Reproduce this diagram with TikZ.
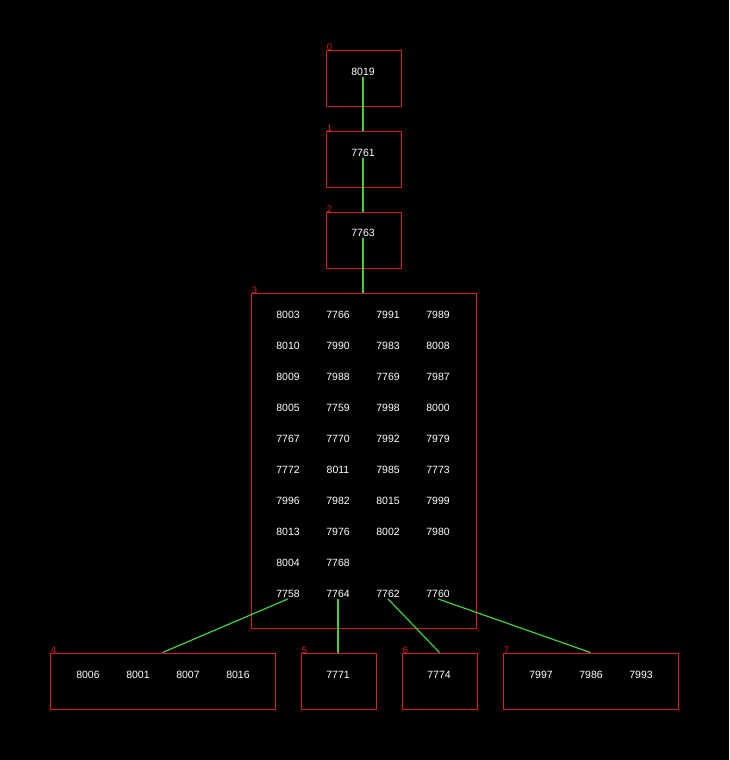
\documentclass[tikz,border=0pt]{standalone}
\usepackage{fontspec}
\setmainfont{Liberation Sans}
\usetikzlibrary{positioning}
\definecolor{boxred}{RGB}{214,32,32}
\definecolor{linkgreen}{RGB}{64,208,64}
\tikzset{
	box/.style={draw=boxred, line width=0.9pt, minimum width=#1, minimum height=56pt, inner sep=0pt},
	num/.style={text=white, font=\fontsize{10.5}{10.5}\selectfont, inner sep=1pt},
	tag/.style={text=boxred, font=\fontsize{9.5}{9.5}\selectfont, inner sep=0pt, anchor=south west, xshift=1pt, yshift=-1pt},
	link/.style={draw=linkgreen, line width=1.2pt}
}

\begin{document}
\begin{tikzpicture}[x=1pt,y=-1pt]
	\fill[black] (0,0) rectangle (729,760);

	\node[box=75pt] (b0) at (363.5,78) {};
	\node[box=75pt] (b1) at (363.5,159) {};
	\node[box=75pt] (b2) at (363.5,240) {};
	\node[box=225pt, minimum height=335pt] (b3) at (363.5,460.5) {};
	\node[box=225pt] (b4) at (162.5,681) {};
	\node[box=75pt] (b5) at (338.5,681) {};
	\node[box=75pt] (b6) at (439.5,681) {};
	\node[box=175pt] (b7) at (590.5,681) {};
	\foreach \i in {0,...,7}
		\node[tag] at (b\i.north west) {\i};

	\node[num] (t0) at (363,72) {8019};
	\node[num] (t1) at (363,153) {7761};
	\node[num] (t2) at (363,233) {7763};
	\foreach \row [count=\r] in {{8003,7766,7991,7989},{8010,7990,7983,8008},{8009,7988,7769,7987},{8005,7759,7998,8000},{7767,7770,7992,7979},{7772,8011,7985,7773},{7996,7982,8015,7999},{8013,7976,8002,7980},{8004,7768},{7758,7764,7762,7760}}
		\foreach \v [count=\c] in \row
			\node[num] (n\r-\c) at (238+50*\c,284+31*\r) {\v};
	\foreach \v [count=\c] in {8006,8001,8007,8016}
		\node[num] (p\c) at (38+50*\c,675) {\v};
	\node[num] (q1) at (338,675) {7771};
	\node[num] (r1) at (439,675) {7774};
	\foreach \v [count=\c] in {7997,7986,7993}
		\node[num] (s\c) at (491+50*\c,675) {\v};

	\draw[link] (t0.south) -- (t0.south |- b1.north);
	\draw[link] (t1.south) -- (t1.south |- b2.north);
	\draw[link] (t2.south) -- (t2.south |- b3.north);
	\draw[link] (n10-1.south) -- (b4.north);
	\draw[link] (n10-2.south) -- (n10-2.south |- b5.north);
	\draw[link] (n10-3.south) -- (b6.north);
	\draw[link] (n10-4.south) -- (b7.north);
\end{tikzpicture}
\end{document}
